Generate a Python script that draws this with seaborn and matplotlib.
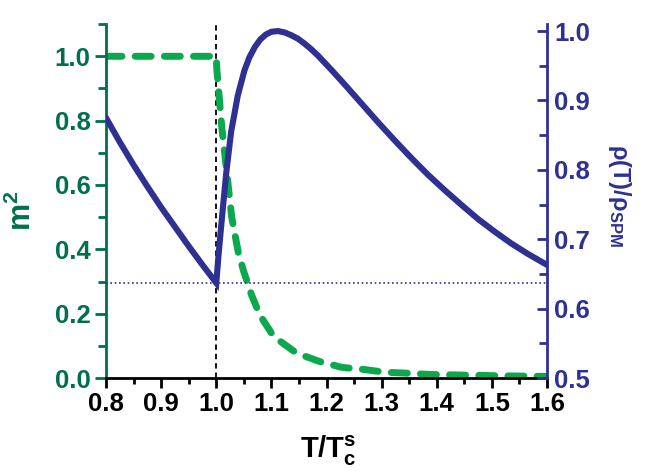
import numpy as np
import pandas as pd
import matplotlib
matplotlib.use("Agg")
import matplotlib.pyplot as plt
from matplotlib.ticker import MultipleLocator
import seaborn as sns

# rho(T)/rho_SPM (right axis)
t_rho = [0.80, 0.825, 0.85, 0.875, 0.90, 0.925, 0.95, 0.975, 1.00,
         1.004, 1.009, 1.018, 1.027, 1.039, 1.051, 1.060, 1.070, 1.080,
         1.090, 1.100, 1.112, 1.124, 1.136, 1.148, 1.160, 1.172, 1.184,
         1.209, 1.233, 1.263, 1.293, 1.323, 1.354, 1.384, 1.414, 1.444,
         1.475, 1.505, 1.535, 1.565, 1.600]
rho = [0.875, 0.840, 0.807, 0.776, 0.746, 0.718, 0.690, 0.663, 0.637,
       0.676, 0.720, 0.795, 0.855, 0.907, 0.943, 0.962, 0.977, 0.988,
       0.995, 0.999, 1.000, 0.998, 0.994, 0.989, 0.982, 0.974, 0.965,
       0.944, 0.923, 0.896, 0.869, 0.843, 0.817, 0.793, 0.771, 0.750,
       0.729, 0.711, 0.694, 0.679, 0.663]

# m^2 (left axis)
t_m2 = [0.80, 0.90, 1.00, 1.001, 1.004, 1.010, 1.019, 1.028, 1.040, 1.050,
        1.064, 1.079, 1.10, 1.113, 1.146, 1.188, 1.228, 1.266, 1.306,
        1.346, 1.388, 1.45, 1.51, 1.60]
m2 = [1.0, 1.0, 1.0, 0.96, 0.90, 0.78, 0.64, 0.50, 0.39, 0.33,
      0.258, 0.196, 0.14, 0.118, 0.077, 0.051, 0.033, 0.027, 0.018,
      0.015, 0.011, 0.009, 0.007, 0.005]

x_ticks = [0.8, 0.9, 1.0, 1.1, 1.2, 1.3, 1.4, 1.5, 1.6]
t_c = 1.0

green_dark = "#00704a"
green = "#0ba84e"
navy = "#2e3192"

sns.set_theme(style="ticks")
plt.rcParams["font.family"] = ["Liberation Sans", "DejaVu Sans"]
plt.rcParams["font.weight"] = "bold"
plt.rcParams["axes.labelweight"] = "bold"
plt.rcParams["mathtext.fontset"] = "custom"
plt.rcParams["mathtext.rm"] = "Liberation Sans:bold"
plt.rcParams["mathtext.it"] = "Liberation Sans:bold"
plt.rcParams["mathtext.bf"] = "Liberation Sans:bold"

df_m2 = pd.DataFrame({"T": t_m2, "m2": m2})
df_rho = pd.DataFrame({"T": t_rho, "rho": rho})

fig, ax = plt.subplots(figsize=(6.52, 4.73), dpi=100)
fig.subplots_adjust(left=0.1626, right=0.839, bottom=0.2008, top=0.949)
ax2 = ax.twinx()

sns.lineplot(data=df_m2, x="T", y="m2", ax=ax, color=green, lw=5,
             linestyle=(0, (2.3, 1.9)), dash_capstyle="round")
ax.axvline(t_c, color="black", lw=1.3, linestyle=(0, (3, 2.2)), zorder=1)

sns.lineplot(data=df_rho, x="T", y="rho", ax=ax2, color=navy, lw=4.4,
             solid_joinstyle="miter")
ax2.axhline(df_rho.loc[df_rho["T"] == t_c, "rho"].iloc[0], color=navy,
            lw=1.2, linestyle=(0, (1, 1.6)), zorder=1)

ax.set_xlim(0.8, 1.6)
ax.set_ylim(0, 1.1)
ax2.set_ylim(0.5, 1.01)

ax.set_xticks(x_ticks)
ax.xaxis.set_minor_locator(MultipleLocator(0.05))
ax.yaxis.set_major_locator(MultipleLocator(0.2))
ax.yaxis.set_minor_locator(MultipleLocator(0.1))
ax2.yaxis.set_major_locator(MultipleLocator(0.1))
ax2.yaxis.set_minor_locator(MultipleLocator(0.05))
ax.xaxis.set_major_formatter(lambda v, p: f"{v:.1f}")
ax.yaxis.set_major_formatter(lambda v, p: f"{v:.1f}")
ax2.yaxis.set_major_formatter(lambda v, p: f"{v:.1f}")

for a in (ax, ax2):
    a.spines["top"].set_visible(False)
ax.spines["right"].set_visible(False)
ax2.spines["left"].set_visible(False)
ax2.spines["bottom"].set_visible(False)
ax.spines["left"].set_color(green_dark)
ax.spines["bottom"].set_color("black")
ax2.spines["right"].set_color(navy)
for s in ("left", "bottom"):
    ax.spines[s].set_linewidth(2)
ax2.spines["right"].set_linewidth(2)

ax.tick_params(axis="x", which="major", direction="out", length=7, width=2,
               color="black", labelcolor="black", labelsize=18.5, pad=3)
ax.tick_params(axis="x", which="minor", direction="out", length=4, width=2,
               color="black")
ax.tick_params(axis="y", which="major", direction="out", length=8, width=2,
               color=green_dark, labelcolor=green_dark, labelsize=18.5, pad=3)
ax.tick_params(axis="y", which="minor", direction="out", length=6, width=2,
               color=green_dark)
ax2.tick_params(axis="y", which="major", direction="in", length=7, width=2,
                color=navy, labelcolor=navy, labelsize=18.5, pad=5)
ax2.tick_params(axis="y", which="minor", direction="in", length=6, width=2,
                color=navy)

ax.set_xlabel(r"T/T$_c^s$", fontsize=21, color="black")
ax.xaxis.label.set_va("center")
ax.xaxis.set_label_coords(0.503, -0.205)

ax.set_ylabel(r"m$^2$", fontsize=22, color=green_dark)
ax.yaxis.label.set_va("center")
ax.yaxis.set_label_coords(-0.19, 0.472)

ax2.set_ylabel(r"ρ(T)/ρ$_{SPM}$", fontsize=17, color=navy, rotation=270)
ax2.yaxis.label.set_va("center")
ax2.yaxis.set_label_coords(1.164, 0.517)

fig.savefig("out.png", dpi=100)
